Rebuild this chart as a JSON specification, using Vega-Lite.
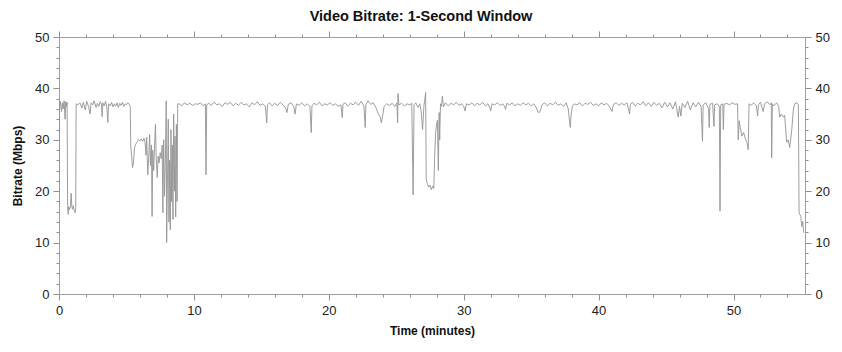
{
"$schema": "https://vega.github.io/schema/vega-lite/v6.json",
"width": 746, "height": 257,
"autosize": {"type": "none"},
"padding": {"left": 59, "top": 37, "right": 37, "bottom": 58},
"background": "white",
"title": {"text": "Video Bitrate: 1-Second Window", "fontSize": 14.5, "font": "Liberation Sans", "fontWeight": "bold", "color": "#111111", "offset": 6, "dx": -11},
"data": {"values": [
{"t":0,"b":17},{"t":0.04,"b":36},{"t":0.1,"b":37.5},{"t":0.18,"b":35.5},{"t":0.25,"b":37.2},{"t":0.3,"b":36},{"t":0.38,"b":37.6},{"t":0.45,"b":34},{"t":0.5,"b":37.4},{"t":0.55,"b":36.5},{"t":0.6,"b":37.3},{"t":0.64,"b":17},{"t":0.68,"b":15.5},{"t":0.72,"b":17},{"t":0.78,"b":16.4},{"t":0.84,"b":17},{"t":0.9,"b":19.6},{"t":0.95,"b":17},{"t":1.0,"b":16.5},{"t":1.06,"b":17.2},{"t":1.12,"b":16.3},{"t":1.2,"b":15.8},{"t":1.24,"b":16.8},{"t":1.27,"b":37},
{"t":1.4,"b":36.8},{"t":1.55,"b":37.2},{"t":1.7,"b":36.2},{"t":1.8,"b":37.3},{"t":1.95,"b":35.8},{"t":2.05,"b":37.5},{"t":2.2,"b":36.4},{"t":2.3,"b":35},{"t":2.38,"b":37.2},{"t":2.5,"b":36.8},{"t":2.6,"b":37.6},{"t":2.75,"b":36.3},{"t":2.85,"b":37.1},{"t":2.95,"b":36.5},{"t":3.05,"b":37.4},{"t":3.15,"b":36.9},{"t":3.2,"b":34.5},{"t":3.25,"b":37.2},{"t":3.35,"b":36.6},{"t":3.45,"b":37.5},{"t":3.55,"b":36.2},{"t":3.62,"b":33.4},{"t":3.68,"b":37},{"t":3.8,"b":36.6},{"t":3.9,"b":37.3},{"t":4.0,"b":36.4},{"t":4.1,"b":37},{"t":4.2,"b":36.5},{"t":4.3,"b":37.2},{"t":4.4,"b":36.3},{"t":4.5,"b":37.1},{"t":4.6,"b":36.7},{"t":4.7,"b":37.3},{"t":4.8,"b":36.5},{"t":4.9,"b":37},{"t":5.0,"b":36.8},{"t":5.1,"b":37.2},{"t":5.2,"b":36.9},{"t":5.28,"b":36.5},
{"t":5.32,"b":28.8},{"t":5.38,"b":27},{"t":5.45,"b":24.6},{"t":5.52,"b":25.5},{"t":5.6,"b":28.5},{"t":5.7,"b":29.2},{"t":5.8,"b":29.6},{"t":5.9,"b":30},{"t":6.0,"b":29.8},{"t":6.1,"b":30.2},{"t":6.2,"b":29.7},{"t":6.3,"b":30.3},{"t":6.38,"b":29.5},{"t":6.45,"b":27},{"t":6.5,"b":30.5},{"t":6.58,"b":23.2},{"t":6.65,"b":26.5},{"t":6.72,"b":31},{"t":6.78,"b":25},{"t":6.85,"b":29},{"t":6.9,"b":15.1},{"t":6.95,"b":28},{"t":7.02,"b":24},{"t":7.1,"b":30},{"t":7.15,"b":33},{"t":7.2,"b":27},{"t":7.28,"b":22.7},{"t":7.35,"b":26.8},{"t":7.42,"b":25.5},{"t":7.5,"b":27.5},{"t":7.58,"b":26.3},{"t":7.65,"b":29},{"t":7.7,"b":15.8},{"t":7.76,"b":30},{"t":7.82,"b":19},{"t":7.88,"b":25},{"t":7.95,"b":37.6},{"t":7.98,"b":10},{"t":8.04,"b":22},{"t":8.1,"b":34},{"t":8.15,"b":14},{"t":8.2,"b":26},{"t":8.25,"b":12.5},{"t":8.3,"b":32},{"t":8.35,"b":18},{"t":8.4,"b":29},{"t":8.45,"b":14.5},{"t":8.5,"b":35},{"t":8.55,"b":20},{"t":8.6,"b":30.7},{"t":8.65,"b":15},{"t":8.7,"b":33},{"t":8.75,"b":18},{"t":8.8,"b":37},
{"t":8.9,"b":37},{"t":9.1,"b":36.6},{"t":9.3,"b":37.2},{"t":9.5,"b":36.8},{"t":9.7,"b":37.1},{"t":9.9,"b":36.7},{"t":10.1,"b":37},{"t":10.3,"b":36.9},{"t":10.5,"b":37.2},{"t":10.7,"b":36.6},{"t":10.85,"b":37},{"t":10.9,"b":23.2},{"t":10.95,"b":36.8},{"t":11.1,"b":37.1},{"t":11.3,"b":36.7},{"t":11.5,"b":37.3},{"t":11.7,"b":36.8},{"t":11.9,"b":37},{"t":12.1,"b":36.5},{"t":12.3,"b":37.2},{"t":12.5,"b":36.9},{"t":12.7,"b":37.3},{"t":12.9,"b":36.6},{"t":13.1,"b":37.1},{"t":13.3,"b":36.7},{"t":13.5,"b":37.3},{"t":13.7,"b":36.8},{"t":13.9,"b":37},{"t":14.1,"b":36.4},{"t":14.3,"b":37.2},{"t":14.5,"b":36.8},{"t":14.7,"b":37.4},{"t":14.9,"b":36.7},{"t":15.1,"b":37},{"t":15.3,"b":36.5},{"t":15.4,"b":33.3},{"t":15.45,"b":36.8},{"t":15.6,"b":37.2},{"t":15.8,"b":36.6},{"t":16.0,"b":37.1},{"t":16.2,"b":36.7},{"t":16.4,"b":37.3},{"t":16.6,"b":36.8},{"t":16.8,"b":36.2},{"t":16.9,"b":35.3},{"t":17.0,"b":36.9},{"t":17.2,"b":37.2},{"t":17.4,"b":36.5},{"t":17.5,"b":35},{"t":17.6,"b":37},{"t":17.8,"b":36.7},{"t":18.0,"b":37.2},{"t":18.2,"b":36.6},{"t":18.4,"b":37},{"t":18.6,"b":36.5},{"t":18.7,"b":31.4},{"t":18.75,"b":36.6},{"t":18.9,"b":37.1},{"t":19.1,"b":36.8},{"t":19.3,"b":37.3},{"t":19.5,"b":36.6},{"t":19.7,"b":37},{"t":19.9,"b":36.8},{"t":20.1,"b":37.2},{"t":20.3,"b":36.7},{"t":20.5,"b":37},{"t":20.7,"b":36.5},{"t":20.9,"b":36.8},{"t":21.0,"b":34.3},{"t":21.05,"b":36.9},{"t":21.2,"b":37.2},{"t":21.4,"b":36.6},{"t":21.6,"b":37.1},{"t":21.8,"b":36.8},{"t":22.0,"b":37.3},{"t":22.2,"b":36.7},{"t":22.4,"b":37.5},{"t":22.6,"b":36.6},{"t":22.7,"b":32.4},{"t":22.75,"b":36.8},{"t":22.9,"b":37.6},{"t":23.1,"b":36.9},{"t":23.3,"b":37.2},{"t":23.5,"b":36.2},{"t":23.65,"b":35.2},{"t":23.8,"b":34.5},{"t":23.9,"b":33.3},{"t":24.0,"b":34.8},{"t":24.1,"b":36.5},{"t":24.3,"b":37},{"t":24.5,"b":36.7},{"t":24.7,"b":37.1},{"t":24.9,"b":36.5},{"t":25.05,"b":37.2},{"t":25.1,"b":33.3},{"t":25.13,"b":39},{"t":25.2,"b":36.8},{"t":25.4,"b":37.1},{"t":25.6,"b":36.6},{"t":25.8,"b":37},{"t":26.0,"b":36.8},{"t":26.15,"b":37.1},
{"t":26.25,"b":19.3},{"t":26.32,"b":36.8},{"t":26.45,"b":37.2},{"t":26.6,"b":36.3},{"t":26.75,"b":37},{"t":26.85,"b":35.5},{"t":26.95,"b":32},{"t":27.05,"b":36.5},{"t":27.18,"b":39.2},{"t":27.22,"b":22.3},{"t":27.3,"b":21.5},{"t":27.4,"b":20.8},{"t":27.5,"b":21.2},{"t":27.6,"b":20.3},{"t":27.7,"b":21},{"t":27.78,"b":20.5},{"t":27.85,"b":26.8},{"t":27.92,"b":31.5},{"t":27.98,"b":32.7},{"t":28.05,"b":33.8},{"t":28.12,"b":24},{"t":28.18,"b":35.3},{"t":28.22,"b":30},{"t":28.28,"b":37},{"t":28.35,"b":36.5},{"t":28.42,"b":38.5},{"t":28.5,"b":36.4},
{"t":28.65,"b":37.2},{"t":28.85,"b":36.6},{"t":29.05,"b":37.1},{"t":29.25,"b":36.8},{"t":29.45,"b":37.3},{"t":29.65,"b":36.7},{"t":29.85,"b":37},{"t":30.0,"b":36.5},{"t":30.1,"b":35.6},{"t":30.2,"b":37},{"t":30.4,"b":36.8},{"t":30.6,"b":37.2},{"t":30.8,"b":36.6},{"t":31.0,"b":37.1},{"t":31.2,"b":36.8},{"t":31.4,"b":37.3},{"t":31.6,"b":36.6},{"t":31.8,"b":37},{"t":31.95,"b":36.2},{"t":32.0,"b":35.6},{"t":32.1,"b":37},{"t":32.3,"b":36.8},{"t":32.5,"b":37.2},{"t":32.7,"b":36.7},{"t":32.9,"b":37},{"t":33.05,"b":36.4},{"t":33.1,"b":35.9},{"t":33.2,"b":37.1},{"t":33.4,"b":36.8},{"t":33.6,"b":37.2},{"t":33.8,"b":36.6},{"t":34.0,"b":37},{"t":34.2,"b":36.7},{"t":34.4,"b":37.2},{"t":34.6,"b":36.8},{"t":34.8,"b":37.1},{"t":35.0,"b":36.6},{"t":35.2,"b":37},{"t":35.4,"b":36.2},{"t":35.5,"b":35.4},{"t":35.6,"b":35.3},{"t":35.7,"b":35.8},{"t":35.8,"b":36.8},{"t":36.0,"b":37.2},{"t":36.2,"b":36.6},{"t":36.4,"b":37.1},{"t":36.6,"b":36.8},{"t":36.8,"b":37.3},{"t":37.0,"b":36.7},{"t":37.2,"b":37},{"t":37.4,"b":36.5},{"t":37.6,"b":37.2},{"t":37.75,"b":36},{"t":37.85,"b":33.5},{"t":37.9,"b":32.4},{"t":37.95,"b":34.5},{"t":38.05,"b":36.5},{"t":38.2,"b":37},{"t":38.4,"b":36.8},{"t":38.6,"b":37.2},{"t":38.8,"b":36.6},{"t":39.0,"b":37.1},{"t":39.2,"b":36.9},{"t":39.4,"b":37.3},{"t":39.6,"b":36.7},{"t":39.8,"b":37},{"t":40.0,"b":36.6},{"t":40.2,"b":37.2},{"t":40.4,"b":36.8},{"t":40.6,"b":37.1},{"t":40.8,"b":36.5},{"t":41.0,"b":35.5},{"t":41.1,"b":36.9},{"t":41.3,"b":37.2},{"t":41.5,"b":36.7},{"t":41.7,"b":37.1},{"t":41.9,"b":36.8},{"t":42.1,"b":37.2},{"t":42.3,"b":35},{"t":42.35,"b":36.8},{"t":42.5,"b":37.3},{"t":42.7,"b":36.6},{"t":42.9,"b":37.1},{"t":43.1,"b":36.8},{"t":43.3,"b":37.4},{"t":43.5,"b":36.6},{"t":43.7,"b":37.2},{"t":43.9,"b":36.5},{"t":44.1,"b":37.3},{"t":44.3,"b":36.7},{"t":44.5,"b":37.1},{"t":44.7,"b":36.2},{"t":44.9,"b":37.3},{"t":45.1,"b":36.4},{"t":45.3,"b":37.2},{"t":45.5,"b":36},{"t":45.7,"b":37.4},{"t":45.9,"b":34.4},{"t":46.0,"b":36.5},{"t":46.1,"b":34.6},{"t":46.2,"b":37.1},{"t":46.4,"b":36.3},{"t":46.6,"b":37.5},{"t":46.8,"b":35.8},{"t":47.0,"b":37.2},{"t":47.2,"b":36.4},{"t":47.4,"b":37.3},{"t":47.6,"b":36.5},{"t":47.7,"b":29.7},{"t":47.75,"b":36.8},{"t":47.95,"b":37.2},{"t":48.15,"b":36},{"t":48.2,"b":32.4},{"t":48.25,"b":36.9},{"t":48.45,"b":37.1},{"t":48.55,"b":32.6},{"t":48.6,"b":36.8},{"t":48.8,"b":37},{"t":48.95,"b":36.5},{"t":49.0,"b":16.1},{"t":49.05,"b":36.8},{"t":49.2,"b":37},{"t":49.25,"b":32},{"t":49.3,"b":36.9},{"t":49.5,"b":37.1},{"t":49.7,"b":36.8},{"t":49.9,"b":37.2},{"t":50.1,"b":36.9},{"t":50.3,"b":37},
{"t":50.35,"b":30},{"t":50.42,"b":33.7},{"t":50.5,"b":32.4},{"t":50.62,"b":30.7},{"t":50.75,"b":31.4},{"t":50.9,"b":30},{"t":51.0,"b":29.5},{"t":51.09,"b":28.1},{"t":51.15,"b":37},{"t":51.3,"b":36.7},{"t":51.5,"b":37.2},{"t":51.7,"b":36.6},{"t":51.79,"b":34.6},{"t":51.85,"b":36.8},{"t":52.0,"b":37.3},{"t":52.2,"b":35.5},{"t":52.3,"b":37},{"t":52.5,"b":37.4},{"t":52.7,"b":36.8},{"t":52.8,"b":37.2},{"t":52.83,"b":26.5},{"t":52.88,"b":37},{"t":53.0,"b":36.6},{"t":53.2,"b":37.2},{"t":53.35,"b":36.5},{"t":53.42,"b":34.4},{"t":53.55,"b":35},{"t":53.7,"b":34.4},{"t":53.79,"b":34.8},{"t":53.94,"b":29.5},{"t":54.05,"b":30},{"t":54.17,"b":28.5},{"t":54.32,"b":32},{"t":54.44,"b":36},{"t":54.54,"b":37},{"t":54.7,"b":37.2},{"t":54.81,"b":36.8},{"t":54.86,"b":15.8},{"t":54.99,"b":15.1},{"t":55.06,"b":13.1},{"t":55.13,"b":14.1},{"t":55.21,"b":11.9}
]},
"layer": [
{"mark": {"type": "line", "color": "#939393", "strokeWidth": 0.9, "clip": true},
 "encoding": {
  "x": {"field": "t", "type": "quantitative", "scale": {"domain": [0, 55.3], "nice": false, "zero": false},
        "axis": {"orient": "bottom", "title": "Time (minutes)", "values": [0,2,4,6,8,10,12,14,16,18,20,22,24,26,28,30,32,34,36,38,40,42,44,46,48,50,52,54],
                 "labelExpr": "datum.value % 10 === 0 ? datum.label : ''",
                 "tickSize": {"condition": {"test": "datum.value % 10 === 0", "value": 6}, "value": 3},
                 "labelPadding": 4, "titlePadding": 8}},
  "y": {"field": "b", "type": "quantitative", "scale": {"domain": [0, 50], "nice": false},
        "axis": {"orient": "left", "title": "Bitrate (Mbps)", "values": [0,2,4,6,8,10,12,14,16,18,20,22,24,26,28,30,32,34,36,38,40,42,44,46,48,50],
                 "labelExpr": "datum.value % 10 === 0 ? datum.label : ''",
                 "tickSize": {"condition": {"test": "datum.value % 10 === 0", "value": 6}, "value": 3},
                 "labelPadding": 4, "titlePadding": 10}}
 }},
{"mark": {"type": "line", "opacity": 0},
 "encoding": {
  "x": {"field": "t", "type": "quantitative",
        "axis": {"orient": "top", "title": null, "labels": false, "values": [0,2,4,6,8,10,12,14,16,18,20,22,24,26,28,30,32,34,36,38,40,42,44,46,48,50,52,54],
                 "tickSize": {"condition": {"test": "datum.value % 10 === 0", "value": 6}, "value": 3}}},
  "y": {"field": "b", "type": "quantitative",
        "axis": {"orient": "right", "title": null, "values": [0,2,4,6,8,10,12,14,16,18,20,22,24,26,28,30,32,34,36,38,40,42,44,46,48,50],
                 "labelExpr": "datum.value % 10 === 0 ? datum.label : ''",
                 "tickSize": {"condition": {"test": "datum.value % 10 === 0", "value": 6}, "value": 3},
                 "labelPadding": 4}}
 }}
],
"resolve": {"axis": {"x": "independent", "y": "independent"}},
"config": {
  "view": {"stroke": null},
  "axis": {"grid": false, "domainColor": "#a0a0a0", "tickColor": "#909090", "labelColor": "#222222", "labelFont": "Liberation Sans", "labelFontSize": 13,
           "titleFont": "Liberation Sans", "titleFontSize": 12, "titleFontWeight": "bold", "titleColor": "#111111", "labelOverlap": false, "labelFlush": false}
}
}
